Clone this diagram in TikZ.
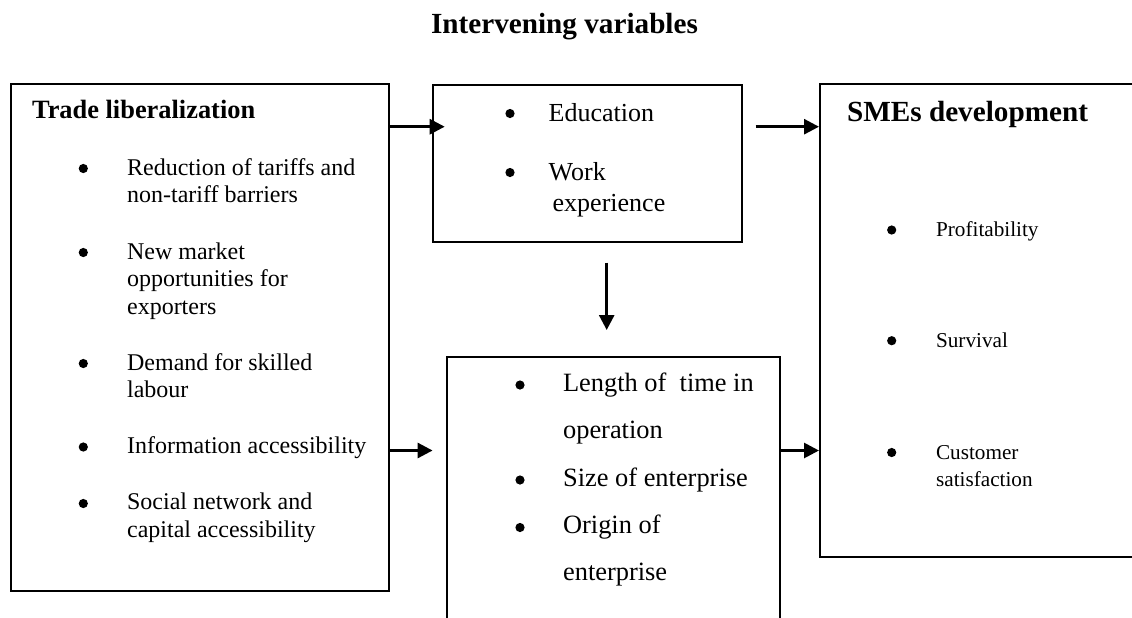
\documentclass[tikz,border=0pt]{standalone}
\usepackage{fontspec}
\setmainfont{Liberation Serif}
\usetikzlibrary{arrows.meta}

\tikzset{
  box/.style={draw, line width=1pt, rectangle, anchor=north west, inner sep=0pt},
  arr/.style={-{Triangle[length=7.5pt,width=7.5pt]}, line width=1.4pt},
  bullet/.style={circle, fill, inner sep=0pt, minimum size=4.6pt},
  item/.style={anchor=base west, align=left, inner sep=0pt},
  head/.style={anchor=base west, inner sep=0pt, font=\bfseries},
}

\begin{document}
\begin{tikzpicture}[x=0.5pt, y=-0.5pt]
  \useasboundingbox (0,0) rectangle (1132,617);
  \clip (0,0) rectangle (1132,617);

  \node[anchor=base, inner sep=0pt, font=\fontsize{14.6}{17}\selectfont\bfseries] (title) at (564.5,33.3) {Intervening variables};

  % boxes
  \node[box, minimum width=189pt, minimum height=253.5pt] (trade) at (10,83) {};
  \node[box, minimum width=154.5pt, minimum height=78.5pt] (edu) at (431.7,84) {};
  \node[box, minimum width=166.5pt, minimum height=160pt] (ops) at (446,356) {};
  \node[box, minimum width=180pt, minimum height=236.5pt] (sme) at (819,83) {};

  % trade liberalization (multi-line items sit on their last baseline)
  \node[head, font=\fontsize{13.2}{16}\selectfont\bfseries] (tl) at (31.7,118) {Trade liberalization};
  \node[bullet] (tb1) at (83.3,168.5) {};
  \node[bullet] (tb2) at (83.3,252.5) {};
  \node[bullet] (tb3) at (83.3,363.5) {};
  \node[bullet] (tb4) at (83.3,447) {};
  \node[bullet] (tb5) at (83.3,503.5) {};
  \node[item, font=\fontsize{12}{13.75}\selectfont] (t1) at (126.7,202.7) {Reduction of tariffs and\\non-tariff barriers};
  \node[item, font=\fontsize{12}{13.75}\selectfont] (t2) at (126.7,314) {New market\\opportunities for\\exporters};
  \node[item, font=\fontsize{12}{13.75}\selectfont] (t3) at (126.7,397.7) {Demand for skilled\\labour};
  \node[item, font=\fontsize{12}{13.75}\selectfont] (t4) at (126.7,453.3) {Information accessibility};
  \node[item, font=\fontsize{12}{13.75}\selectfont] (t5) at (126.7,537.3) {Social network and\\capital accessibility};

  % intervening variables
  \node[bullet] (eb1) at (510,113.5) {};
  \node[bullet] (eb2) at (510,172.5) {};
  \node[item, font=\fontsize{13}{15.5}\selectfont] (e1) at (548.3,121) {Education};
  \node[item, font=\fontsize{13}{15.5}\selectfont] (e2) at (548.3,211) {Work\\\hspace{2pt}experience};

  \node[bullet] (ob1) at (520,385) {};
  \node[bullet] (ob2) at (520,480) {};
  \node[bullet] (ob3) at (520,527.5) {};
  \node[item, font=\fontsize{13.2}{23.3}\selectfont] (o1) at (562.7,438.3) {Length of \ time in\\operation};
  \node[item, font=\fontsize{13.2}{23.3}\selectfont] (o2) at (562.7,486.7) {Size of enterprise};
  \node[item, font=\fontsize{13.2}{23.3}\selectfont] (o3) at (562.7,580) {Origin of\\enterprise};

  % SMEs development
  \node[head, font=\fontsize{14.6}{17}\selectfont\bfseries] (sl) at (846.7,121.7) {SMEs development};
  \node[bullet] (sb1) at (891.7,230) {};
  \node[bullet] (sb2) at (891.7,340.7) {};
  \node[bullet] (sb3) at (891.7,452.5) {};
  \node[item, font=\fontsize{10.6}{13.85}\selectfont] (s1) at (935.7,236.7) {Profitability};
  \node[item, font=\fontsize{10.6}{13.85}\selectfont] (s2) at (935.7,347.3) {Survival};
  \node[item, font=\fontsize{10.6}{13.85}\selectfont] (s3) at (935.7,486.7) {Customer\\satisfaction};

  % arrows
  \coordinate (rowA) at (0,126.7);
  \coordinate (rowB) at (0,450.5);
  \coordinate (colA) at (606.7,0);
  \draw[arr, shorten >=-6.5pt] (trade.east |- rowA) -- (edu.west |- rowA);
  \draw[arr, shorten <=6.5pt] (edu.east |- rowA) -- (sme.west |- rowA);
  \draw[arr, shorten <=9.8pt, shorten >=13pt] (edu.south -| colA) -- (ops.north -| colA);
  \draw[arr, shorten >=6.7pt] (trade.east |- rowB) -- (ops.west |- rowB);
  \draw[arr] (ops.east |- rowB) -- (sme.west |- rowB);
\end{tikzpicture}
\end{document}
